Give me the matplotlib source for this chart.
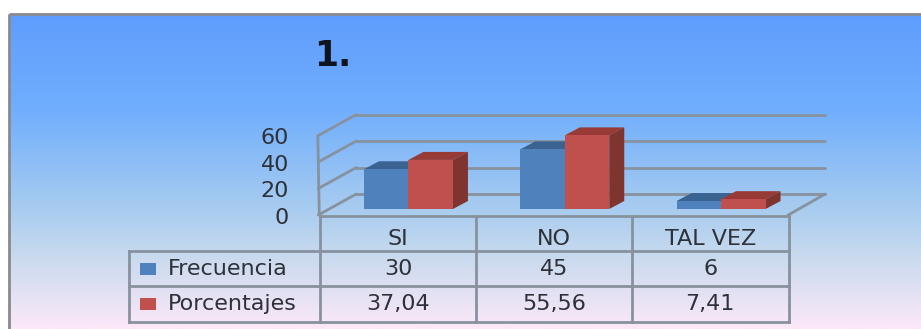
import matplotlib
matplotlib.use("Agg")
import matplotlib.pyplot as plt
from matplotlib.colors import LinearSegmentedColormap
from matplotlib.patches import Polygon, Rectangle
from matplotlib.transforms import IdentityTransform
import numpy as np

categorias = ["SI", "NO", "TAL VEZ"]
frecuencia = [30, 45, 6]
porcentajes = [37.04, 55.56, 7.41]
etiq_frecuencia = ["30", "45", "6"]
etiq_porcentajes = ["37,04", "55,56", "7,41"]
marcas_y = [0, 20, 40, 60]

W, H = 921, 329
AZUL, AZUL_TOPE, AZUL_LADO = "#4F81BD", "#3B6391", "#345780"
ROJO, ROJO_TOPE, ROJO_LADO = "#C0504D", "#983A36", "#7F3430"
GRIS = "#87929E"
TEXTO = "#2E3138"
TAM = 16

fig = plt.figure(figsize=(W / 100, H / 100), dpi=100, facecolor="white")

# capa de fondo en pixeles: degradado, marco y tabla de datos
base = fig.add_axes([0, 0, 1, 1])
base.axis("off")

degradado = LinearSegmentedColormap.from_list(
    "fondo",
    [(0.0, "#5F9DFE"), (0.30, "#70AEFD"), (0.62, "#A8CCF0"),
     (0.76, "#C6D9EE"), (1.0, "#FCE8F8")],
)
base.imshow(np.linspace(0, 1, 300).reshape(-1, 1), cmap=degradado, aspect="auto",
            extent=(9, W, H, 14), zorder=0)
base.set_xlim(0, W)
base.set_ylim(H, 0)
# el marco sale por la derecha y por abajo
base.add_patch(Rectangle((8.5, 13.5), W + 20, H, fill=False, ec="#8A8A8E", lw=2, zorder=1))
base.text(333, 56, "1.", fontsize=25, fontweight="bold", color="#10141E",
          ha="center", va="center")

# ejes de las barras: x por categoria, y en unidades de valor
x0, y0, ancho_cat, px_por_unidad = 330.3, 209, 156.3, 1.325
ax = fig.add_axes([x0 / W, (H - y0) / H, 3 * ancho_cat / W, 60 * px_por_unidad / H])
ax.set_xlim(0, 3)
ax.set_ylim(0, 60)
ax.axis("off")
ax.patch.set_alpha(0)


def desplazar(puntos, dx, dy):
    """Pasa puntos de datos a pixeles de pantalla y los mueve en profundidad."""
    return ax.transData.transform(puntos) + np.array([dx, dy])


def cara(puntos_frente, dx, dy, color, z):
    # cara lateral o superior: arista frontal + la misma arista en el fondo
    frente = desplazar(puntos_frente, 0, 0)
    fondo = desplazar(puntos_frente[::-1], dx, dy)
    ax.add_patch(Polygon(np.vstack([frente, fondo]), closed=True, fc=color, ec="none",
                         transform=IdentityTransform(), zorder=z, clip_on=False))


def segmento(a, b, z=1, lw=2.0):
    xy = np.array([a, b])
    ax.plot(xy[:, 0], xy[:, 1], color=GRIS, lw=lw, transform=IdentityTransform(),
            zorder=z, clip_on=False, solid_capstyle="round")


# paredes y rejilla: el fondo queda a (26, +15) px y el borde frontal a (-11, -6) px
for v in marcas_y:
    p_izq = [(0, v)]
    segmento(desplazar(p_izq, -12, -6)[0], desplazar(p_izq, 26, 15)[0])
    segmento(desplazar(p_izq, 26, 15)[0], desplazar([(3, v)], 26, 15)[0])
segmento(desplazar([(0, 0)], -11, -6)[0], desplazar([(0, 60)], -12.5, -6)[0])
segmento(desplazar([(3, 0)], -11, -6)[0], desplazar([(3, 0)], 26, 15)[0])

x = np.arange(len(categorias)) + 0.5
w = 44.5 / ancho_cat
barras_f = ax.bar(x - w / 2, frecuencia, w, color=AZUL, zorder=3)
barras_p = ax.bar(x + w / 2, porcentajes, w, color=ROJO, zorder=5)

for barras, tope, lado, z in [(barras_f, AZUL_TOPE, AZUL_LADO, 2),
                              (barras_p, ROJO_TOPE, ROJO_LADO, 4)]:
    for b in barras:
        izq, der, alto = b.get_x(), b.get_x() + b.get_width(), b.get_height()
        cara([(izq, alto), (der, alto)], 15, 8, tope, z)
        cara([(der, alto), (der, 0)], 15, 8, lado, z)

# etiquetas del eje de valores
for v in marcas_y:
    base.text(289, 217.7 - v * px_por_unidad, str(v), fontsize=TAM, color=TEXTO,
              ha="right", va="center")

# tabla de datos bajo el grafico
xs_col = [320, 476, 632, 788.5]
ys_fil = [215.5, 251, 286, 322]
centros_fila = [239, 269, 304.5]
for xc in xs_col:
    base.plot([xc, xc], [ys_fil[0], ys_fil[-1]], color=GRIS, lw=2, zorder=2)
base.plot([129, 129], [ys_fil[1], ys_fil[-1]], color=GRIS, lw=2, zorder=2)
base.plot([320, xs_col[-1]], [ys_fil[0], ys_fil[0]], color=GRIS, lw=2, zorder=2)
for yf in ys_fil[1:]:
    base.plot([129, xs_col[-1]], [yf, yf], color=GRIS, lw=2, zorder=2)

filas = [categorias, etiq_frecuencia, etiq_porcentajes]
for yc, fila in zip(centros_fila, filas):
    for c, txt in enumerate(fila):
        base.text((xs_col[c] + xs_col[c + 1]) / 2, yc, txt, fontsize=TAM, color=TEXTO,
                  ha="center", va="center")

for nombre, color, yc in [("Frecuencia", AZUL, 268.5), ("Porcentajes", ROJO, 304)]:
    base.add_patch(Rectangle((140, yc - 6), 16, 12, fc=color, ec="none", zorder=3))
    base.text(168, yc + 0.5, nombre, fontsize=TAM, color=TEXTO, ha="left", va="center")

fig.savefig("out.png", dpi=100)
